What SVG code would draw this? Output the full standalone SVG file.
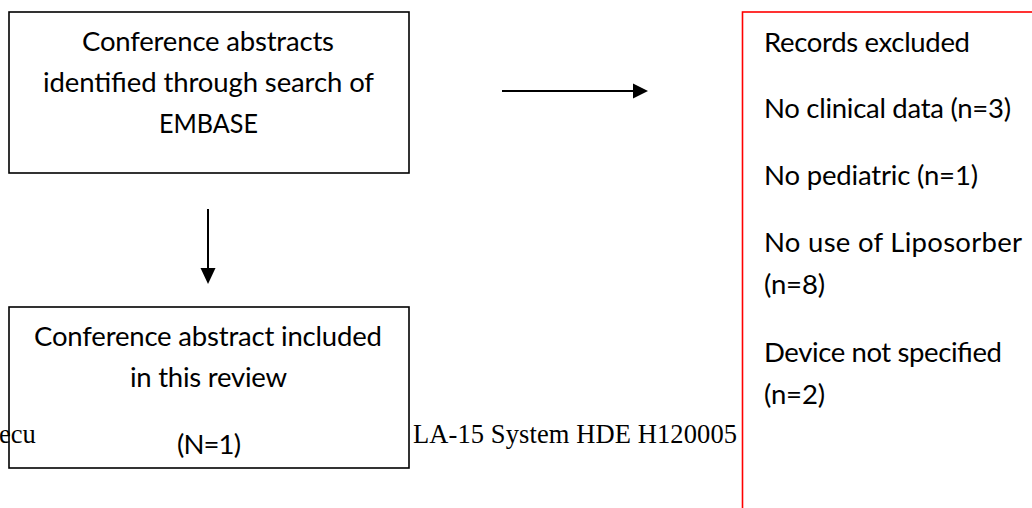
<svg xmlns="http://www.w3.org/2000/svg" width="1032" height="508" viewBox="0 0 1032 508">
<style>
  .box { fill: #ffffff; stroke: #000000; stroke-width: 1.6; }
  .red { fill: none; stroke: #ff0000; stroke-width: 1.6; }
  .cal { font-family: Lato, "Open Sans", sans-serif; font-size: 27.5px; fill: #000000; }
  .tnr { font-family: "Liberation Serif", "Times New Roman", serif; font-size: 26.5px; fill: #000000; }
  .mid { text-anchor: middle; }
  .conn { stroke: #000000; stroke-width: 2; fill: none; }
  .head { fill: #000000; stroke: none; }
</style>
<rect x="0" y="0" width="1032" height="508" fill="#ffffff"/>

<g id="connectors">
  <line class="conn" x1="208" y1="209" x2="208" y2="270"/>
  <polygon class="head" points="200.5,268 215.5,268 208,284"/>
  <line class="conn" x1="502" y1="91" x2="635" y2="91"/>
  <polygon class="head" points="633,83.5 633,98.5 648,91"/>
</g>

<g id="node-identified">
  <rect class="box" x="9" y="12" width="400" height="161"/>
  <text class="cal mid" x="208" y="51" textLength="252">Conference abstracts</text>
  <text class="cal mid" x="208.5" y="92" textLength="331">identified through search of</text>
  <text class="cal mid" x="208.5" y="133" textLength="99" lengthAdjust="spacingAndGlyphs">EMBASE</text>
</g>

<g id="node-included">
  <rect class="box" x="9" y="307" width="400" height="161"/>
  <text class="cal mid" x="208" y="346" textLength="348">Conference abstract included</text>
  <text class="cal mid" x="208.5" y="387" textLength="157">in this review</text>
  <text class="cal mid" x="209" y="454" textLength="64">(N=1)</text>
</g>

<g id="stray-text">
  <text class="tnr" x="-1" y="443">ecu</text>
  <text class="tnr" x="413" y="443" textLength="324">LA-15 System HDE H120005</text>
</g>

<g id="node-excluded">
  <rect class="red" x="742.5" y="12" width="400" height="600"/>
  <text class="cal" x="764" y="52" textLength="206">Records excluded</text>
  <text class="cal" x="764" y="118" textLength="247">No clinical data (n=3)</text>
  <text class="cal" x="764" y="185" textLength="214">No pediatric (n=1)</text>
  <text class="cal" x="764" y="252" textLength="258">No use of Liposorber</text>
  <text class="cal" x="764" y="294" textLength="61">(n=8)</text>
  <text class="cal" x="764" y="362" textLength="238">Device not specified</text>
  <text class="cal" x="764" y="404" textLength="61">(n=2)</text>
</g>
</svg>
